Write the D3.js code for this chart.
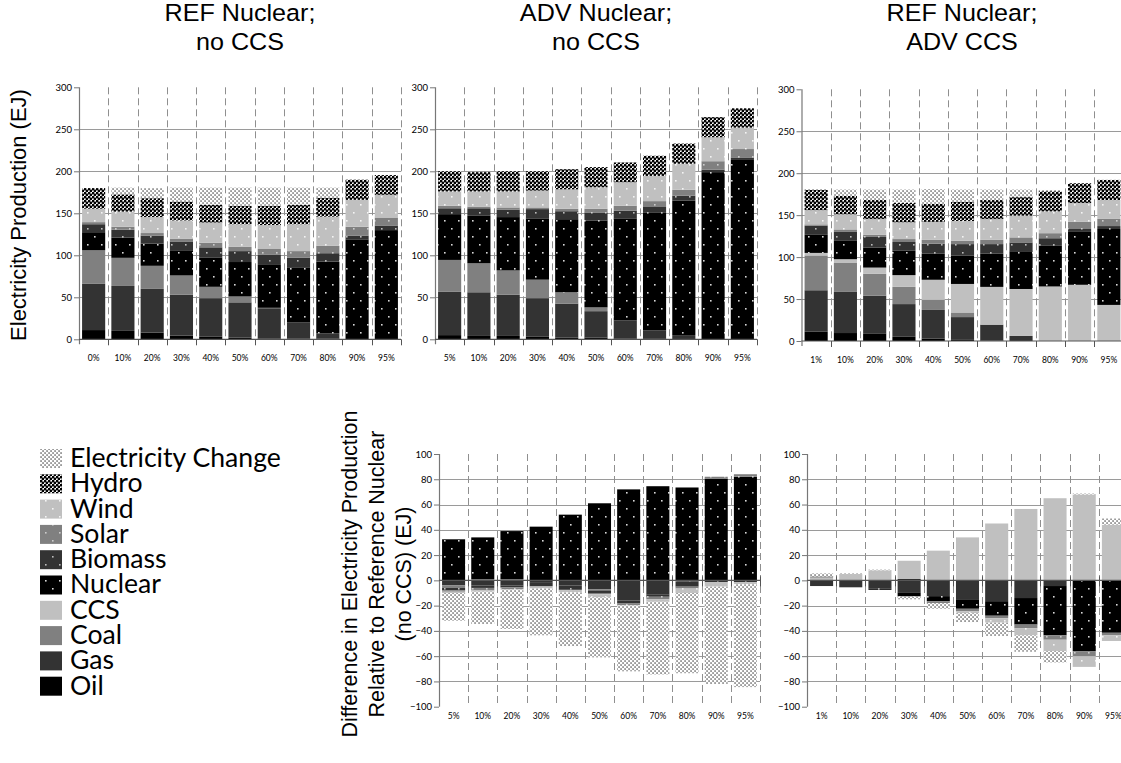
<!DOCTYPE html>
<html>
<head>
<meta charset="utf-8">
<script src="https://cdnjs.cloudflare.com/ajax/libs/d3/7.8.5/d3.min.js"></script>
<style>
	body { margin: 0; background: #fff; }
	svg { display: block; }
	.tick text { font-family: Lato, 'Open Sans', sans-serif; fill: #000; }
	.ttl { font-family: 'Liberation Sans', Arial, sans-serif; fill: #000; }
</style>
</head>
<body>
<svg width="1121" height="763"></svg>
<script>
const keys = ['Oil', 'Gas', 'Coal', 'CCS', 'Nuclear', 'Biomass', 'Solar', 'Wind', 'Hydro', 'Electricity Change']

const catsRef = ['0%', '10%', '20%', '30%', '40%', '50%', '60%', '70%', '80%', '90%', '95%']
const catsAdv = ['5%', '10%', '20%', '30%', '40%', '50%', '60%', '70%', '80%', '90%', '95%']
const catsCcs = ['1%', '10%', '20%', '30%', '40%', '50%', '60%', '70%', '80%', '90%', '95%']

const yTicksTop = [0, 50, 100, 150, 200, 250, 300]
const yTicksBottom = [-100, -80, -60, -40, -20, 0, 20, 40, 60, 80, 100]

// REF nuclear, no CCS (EJ)
const refOil = [11, 10, 8, 4.5, 3, 2, 1, 1, 1, 0, 0]
const refGas = [55, 53.5, 52, 48.5, 46, 42, 36, 19, 6, 0, 0]
const refCoal = [40, 33.5, 27.5, 23, 13.5, 7, 0.5, 0, 0, 0, 0]
const refCcs = [0, 0, 0, 0, 0, 0, 0, 0, 0, 0, 0]
const refNuclear = [21.5, 24, 26.5, 30, 34.5, 41, 51, 65, 85.5, 119, 130]
const refBiomass = [9.5, 9.5, 9.5, 10.5, 12.5, 13, 12, 12, 10, 4.5, 5.5]
const refSolar = [2.5, 3.5, 3, 3, 5.5, 5, 7, 8, 9, 10.5, 9.5]
const refWind = [16, 18, 19, 22, 24, 27, 28.5, 32, 34.5, 32, 27]
const refHydro = [24.5, 20.5, 22.5, 22.5, 21, 22, 23, 23, 22.5, 24, 23.5]
const refChange = [0, 8, 12, 16.5, 20.5, 21.5, 21.5, 20.5, 12, 0, 0]

// ADV nuclear, no CCS (EJ)
const advOil = [5, 4, 4, 3, 2, 2, 1, 0.5, 0, 0, 0]
const advGas = [51.5, 52, 49, 46, 40.5, 31.5, 21.5, 10, 5, 0, 0]
const advCoal = [38, 34.5, 29, 22, 13.5, 4.5, 0, 0, 0, 0, 0]
const advCcs = [0, 0, 0, 0, 0, 0, 0, 0, 0, 0, 0]
const advNuclear = [54.5, 56.5, 63.5, 73, 87, 103.5, 121.5, 140, 160, 199, 213.5]
const advBiomass = [7, 9, 9, 11, 9.5, 9.5, 9, 7, 6, 3, 3]
const advSolar = [3, 2, 2.5, 2, 3, 4.5, 6, 7, 7, 10, 10]
const advWind = [17, 18, 19, 20, 23, 25.5, 28, 30, 31, 28.5, 25.5]
const advHydro = [24, 23, 24, 23, 24, 24, 23.5, 24, 24, 24, 23]
const advChange = [0, 0, 0, 0, 0, 0, 0, 0, 0, 0, 0]

// REF nuclear, ADV CCS (EJ)
const ccsOil = [11, 9.5, 8.5, 5, 3, 2, 0.5, 0, 0, 0, 0]
const ccsGas = [49.5, 49, 45.5, 39, 34, 26.5, 19, 6, 0, 0, 0]
const ccsCoal = [41.5, 34.5, 26, 20.5, 12, 5.5, 0, 0, 0, 0, 0]
const ccsCcs = [3, 4.5, 7.5, 14, 24, 34, 45, 56, 65, 67, 43]
const ccsNuclear = [21.5, 22.5, 24, 29, 31, 34, 39.5, 45, 49, 63, 90.5]
const ccsBiomass = [11, 10, 12.5, 10.5, 12, 13.5, 11.5, 10.5, 8.5, 3.5, 3.5]
const ccsSolar = [1.5, 3, 2.5, 3.5, 4.5, 4, 5, 6, 6, 8.5, 8.5]
const ccsWind = [17, 18, 19, 20, 21.5, 23.5, 25, 26, 26, 22.5, 22.5]
const ccsHydro = [24, 22, 22.5, 23, 21.5, 23, 22.5, 22, 24, 23.5, 24]
const ccsChange = [1, 7.5, 12.5, 16, 17.5, 14.5, 12.5, 9, 1.5, 0, 0]

// difference vs REF nuclear no CCS: ADV nuclear
const dAdvOil = [0, 0, 0, 0, 0, 0, 0, 0, 0, 0, 0]
const dAdvGas = [-4, -4, -4, -2, -4, -7, -16, -11, -1, 0, 0]
const dAdvCoal = [-2, 1, 1, 0, 0, -1, 0, 0, 0, 0, 0]
const dAdvCcs = [0, 0, 0, 0, 0, 0, 0, 0, 0, 0, 0]
const dAdvNuclear = [32.5, 33, 38, 42.5, 52, 61, 72, 74.5, 73.5, 80.5, 82]
const dAdvBiomass = [-2, -2, -1.5, -2.5, -3.5, -2, -2, -2, -4, -1.5, -1.5]
const dAdvSolar = [-1, -2, -1.5, -0.5, -0.5, -1, -1.5, -2, -1.5, 1.5, 2]
const dAdvWind = [-1, -1, -0.5, -1.5, -1.5, -2.5, -0.5, -2, -3.5, -3.5, -1.5]
const dAdvHydro = [0, 0, 0, 0, 0, 0, 0, 0, 0, 0, 0]
const dAdvChange = [-22, -25.5, -31, -37, -42.5, -47.5, -52, -57.5, -63.5, -77, -81.5]

// difference vs REF nuclear no CCS: ADV CCS
const dCcsOil = [0, 0, 0, 1, 0, 0, 0, 0, 0, 0, 0]
const dCcsGas = [-4.5, -5.5, -6.5, -9.5, -12.5, -15, -16.5, -14, -4.5, 0, 0]
const dCcsCoal = [0, 0, 0, 0, 0, 0, 0, 0, 0, 0, 0]
const dCcsCcs = [2.5, 5, 8, 14.5, 23.5, 34, 45, 56.5, 65, 68, 44]
const dCcsNuclear = [0.5, 0, -1, -3, -4, -7.5, -11.5, -21, -39, -56, -41.5]
const dCcsBiomass = [0, 0, 0, 0, 0, 0, 0, 0, 0, 0, 0]
const dCcsSolar = [0, 0, 0, -0.5, -1.5, -2, -2, -3, -3.5, -4, -2]
const dCcsWind = [0, 0, 0, 0, 0, -1.5, -3.5, -5.5, -9, -8.5, -4.5]
const dCcsHydro = [0, 0, 0, 0, 0, 0, 0, 0, 0, 0, 0]
const dCcsChange = [2.5, 0.5, 0.5, -2, -4.5, -7, -10.5, -13, -9, 0.7, 5]

const build = (cats, cols) => cats.map((c, i) => {
	let row = { cat: c }
	keys.forEach((k, j) => { row[k] = cols[j][i] })
	return row
})

let svg = d3.select('svg')
let defs = svg.append('defs')

// dotted fills for the renewables / nuclear
const dotPattern = (id, bg, dot) => {
	let p = defs.append('pattern').attr('id', id)
	.attr('patternUnits', 'userSpaceOnUse').attr('width', 14).attr('height', 16)
	p.append('rect').attr('width', 14).attr('height', 16).attr('fill', bg)
	p.append('rect').attr('x', 3).attr('y', 4).attr('width', 1.6).attr('height', 1.6).attr('fill', dot)
	p.append('rect').attr('x', 10).attr('y', 12).attr('width', 1.6).attr('height', 1.6).attr('fill', dot)
}
dotPattern('pNuclear', '#000', '#d8d8d8')
dotPattern('pBiomass', '#333', '#bbb')
dotPattern('pSolar', '#808080', '#ccc')
dotPattern('pWind', '#c0c0c0', '#f4f4f4')

let ph = defs.append('pattern').attr('id', 'pHydro')
	.attr('patternUnits', 'userSpaceOnUse').attr('width', 4).attr('height', 4)
ph.append('rect').attr('width', 4).attr('height', 4).attr('fill', '#fff')
ph.append('circle').attr('cx', 1).attr('cy', 1).attr('r', 1.45).attr('fill', '#000')
ph.append('circle').attr('cx', 3).attr('cy', 3).attr('r', 1.45).attr('fill', '#000')

let pc = defs.append('pattern').attr('id', 'pChange')
	.attr('patternUnits', 'userSpaceOnUse').attr('width', 4).attr('height', 4)
pc.append('rect').attr('width', 4).attr('height', 4).attr('fill', '#fff')
pc.append('rect').attr('x', 0.4).attr('y', 0.4).attr('width', 1.3).attr('height', 1.3).attr('fill', '#333')
pc.append('rect').attr('x', 2.4).attr('y', 2.4).attr('width', 1.3).attr('height', 1.3).attr('fill', '#333')

const fills = {
	'Oil': '#000',
	'Gas': '#333',
	'Coal': '#808080',
	'CCS': '#c0c0c0',
	'Nuclear': 'url(#pNuclear)',
	'Biomass': 'url(#pBiomass)',
	'Solar': 'url(#pSolar)',
	'Wind': 'url(#pWind)',
	'Hydro': 'url(#pHydro)',
	'Electricity Change': 'url(#pChange)'
}

const chart = o => {
	let x = d3.scaleBand().domain(o.cats)
	.range([o.x0, o.x0 + o.w]).paddingInner(0.21).paddingOuter(0.105)
	let y = d3.scaleLinear().domain(o.dom).range(o.rng)
	let g = svg.append('g')
	let bottom = y(o.dom[0]), top = y(o.dom[1]), zero = y(0)

	// horizontal grid
	g.append('g').selectAll('line')
	.data(o.ticks.filter(t => t != 0 && t != o.dom[0] && t != o.dom[1]))
	.join('line')
	.attr('x1', o.x0).attr('x2', o.x0 + o.w)
	.attr('y1', d => Math.round(y(d)) + 0.5).attr('y2', d => Math.round(y(d)) + 0.5)
	.attr('stroke', '#9a9a9a')

	// dashed category separators
	let bounds = d3.range(1, o.cats.length + 1).map(i => o.x0 + i * x.step())
	g.append('g').selectAll('line').data(bounds).join('line')
	.attr('x1', d => Math.round(d) + 0.5).attr('x2', d => Math.round(d) + 0.5)
	.attr('y1', top).attr('y2', bottom)
	.attr('stroke', '#8f8f8f').attr('stroke-dasharray', '7,4')

	// stacked bars
	let series = d3.stack().keys(keys).offset(d3.stackOffsetDiverging)(o.data)
	g.append('g').selectAll('g').data(series).join('g')
	.attr('fill', d => fills[d.key])
	.selectAll('rect').data(d => d).join('rect')
	.attr('x', d => x(d.data.cat))
	.attr('width', x.bandwidth())
	.attr('y', d => y(d[1]))
	.attr('height', d => Math.max(0, y(d[0]) - y(d[1])))

	// y axis
	let ya = g.append('g').attr('transform', `translate(${o.x0},0)`)
	.call(d3.axisLeft(y).tickValues(o.ticks).tickSize(5).tickPadding(2))
	ya.select('.domain').remove()
	ya.selectAll('.tick line').attr('stroke', '#777')
	ya.selectAll('.tick text').style('font-size', '9.5px')
	g.append('line')
	.attr('x1', o.x0 + 0.5).attr('x2', o.x0 + 0.5)
	.attr('y1', top).attr('y2', bottom + (o.dom[0] == 0 ? 5 : 0))
	.attr('stroke', '#777').attr('stroke-width', 1.2)

	// zero line with category ticks
	g.append('line')
	.attr('x1', o.x0).attr('x2', o.x0 + o.w)
	.attr('y1', zero).attr('y2', zero)
	.attr('stroke', '#555').attr('stroke-width', 1.2)
	g.append('g').selectAll('line').data(bounds).join('line')
	.attr('x1', d => Math.round(d) + 0.5).attr('x2', d => Math.round(d) + 0.5)
	.attr('y1', o.dom[0] == 0 ? zero : zero - 4).attr('y2', zero + 6)
	.attr('stroke', '#555')

	// category labels
	let xa = g.append('g').attr('transform', `translate(0,${bottom})`)
	.call(d3.axisBottom(x).tickSize(0).tickPadding(o.labelPad))
	xa.select('.domain').remove()
	xa.selectAll('.tick text').style('font-size', '8.5px')
}

chart({ cats: catsRef, x0: 79, w: 322, dom: [0, 300], rng: [339.3, 87.3], ticks: yTicksTop, labelPad: 15.5,
	data: build(catsRef, [refOil, refGas, refCoal, refCcs, refNuclear, refBiomass, refSolar, refWind, refHydro, refChange]) })
chart({ cats: catsAdv, x0: 435, w: 322, dom: [0, 300], rng: [339.3, 87.3], ticks: yTicksTop, labelPad: 15.5,
	data: build(catsAdv, [advOil, advGas, advCoal, advCcs, advNuclear, advBiomass, advSolar, advWind, advHydro, advChange]) })
chart({ cats: catsCcs, x0: 801.5, w: 322, dom: [0, 300], rng: [341, 89.3], ticks: yTicksTop, labelPad: 15.5,
	data: build(catsCcs, [ccsOil, ccsGas, ccsCoal, ccsCcs, ccsNuclear, ccsBiomass, ccsSolar, ccsWind, ccsHydro, ccsChange]) })
chart({ cats: catsAdv, x0: 439, w: 321, dom: [-100, 100], rng: [706.7, 454], ticks: yTicksBottom, labelPad: 6,
	data: build(catsAdv, [dAdvOil, dAdvGas, dAdvCoal, dAdvCcs, dAdvNuclear, dAdvBiomass, dAdvSolar, dAdvWind, dAdvHydro, dAdvChange]) })
chart({ cats: catsCcs, x0: 807, w: 321, dom: [-100, 100], rng: [706.7, 454], ticks: yTicksBottom, labelPad: 6,
	data: build(catsCcs, [dCcsOil, dCcsGas, dCcsCoal, dCcsCcs, dCcsNuclear, dCcsBiomass, dCcsSolar, dCcsWind, dCcsHydro, dCcsChange]) })

// titles, centred over each plot
const titles = [
	{ x: 240, lines: ['REF Nuclear;', 'no CCS'] },
	{ x: 596, lines: ['ADV Nuclear;', 'no CCS'] },
	{ x: 962, lines: ['REF Nuclear;', 'ADV CCS'] }
]
titles.forEach(t => {
	let tg = svg.append('g').attr('transform', `translate(${t.x},0) scale(1.07,1)`)
	t.lines.forEach((l, i) => {
		tg.append('text').attr('class', 'ttl')
		.attr('x', 0).attr('y', 21 + i * 29.5)
		.attr('text-anchor', 'middle').style('font-size', '23.5px')
		.text(l)
	})
})

// axis titles
svg.append('text').attr('class', 'ttl')
	.attr('transform', 'translate(26,215) rotate(-90)')
	.attr('text-anchor', 'middle').style('font-size', '22px')
	.text('Electricity Production (EJ)')

const diffLabel = ['Difference in Electricity Production', 'Relative to Reference Nuclear', '(no CCS) (EJ)']
diffLabel.forEach((l, i) => {
	svg.append('text').attr('class', 'ttl')
	.attr('transform', `translate(${357 + i * 27},574) rotate(-90)`)
	.attr('text-anchor', 'middle').style('font-size', '21.5px')
	.text(l)
})

// legend, top to bottom
let legendKeys = keys.slice().reverse()
let lg = svg.append('g')
legendKeys.forEach((k, i) => {
	lg.append('rect').attr('x', 40).attr('y', 449 + i * 25.3)
	.attr('width', 22).attr('height', 19).attr('fill', fills[k])
})
let lt = lg.append('g').attr('transform', 'translate(70,0)')
legendKeys.forEach((k, i) => {
	lt.append('text').attr('x', 0).attr('y', 467 + i * 25.3)
	.style('font-family', "Lato, 'Open Sans', sans-serif").style('font-size', '26.5px')
	.text(k)
})
let w0 = lt.select('text').node().getComputedTextLength()
lt.attr('transform', `translate(70,0) scale(${211 / w0},1)`)
</script>
</body>
</html>
